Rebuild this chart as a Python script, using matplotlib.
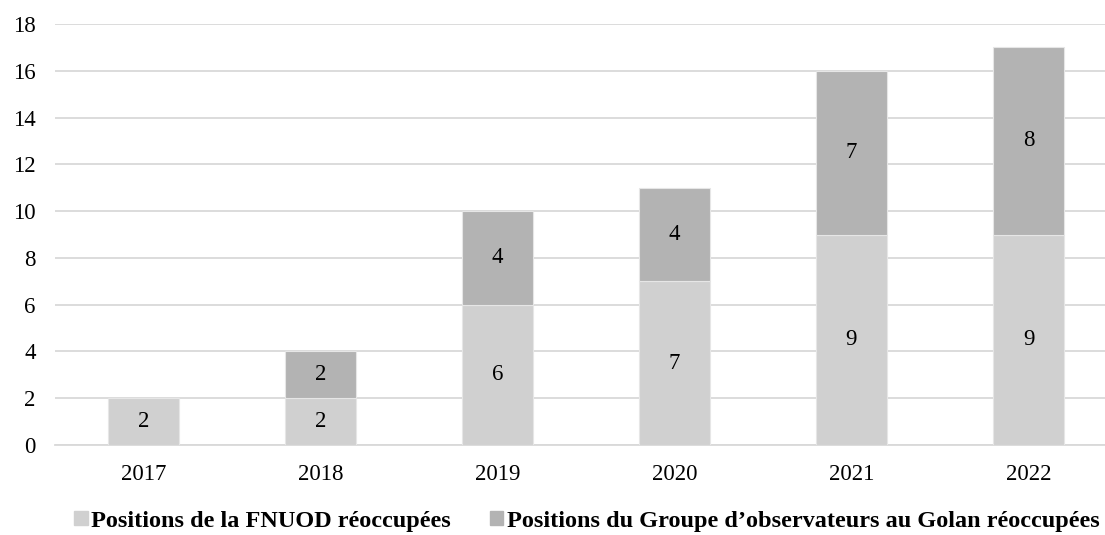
import matplotlib
matplotlib.use("Agg")
import matplotlib.pyplot as plt
import numpy as np

years = ["2017", "2018", "2019", "2020", "2021", "2022"]
fnuod = [2, 2, 6, 7, 9, 9]
golan = [0, 2, 4, 4, 7, 8]
series_names = ["Positions de la FNUOD réoccupées",
                "Positions du Groupe d\u2019observateurs au Golan réoccupées"]
colors = ["#d0d0d0", "#b3b3b3"]

plt.rcParams["font.family"] = ["Liberation Serif", "DejaVu Serif"]

W, H = 1105, 535
fig = plt.figure(figsize=(W / 100, H / 100), dpi=100)
left, right, bottom, top = 55, 1117, 445, 24
ax = fig.add_axes([left / W, 1 - bottom / H, (right - left) / W, (bottom - top) / H])

x = np.arange(len(years))
width = 0.4
ax.bar(x, fnuod, width, color=colors[0], edgecolor="#e6e6e6", linewidth=0.8,
       label=series_names[0], zorder=3)
golan_masked = [v if v > 0 else np.nan for v in golan]
ax.bar(x, golan_masked, width, bottom=fnuod, color=colors[1], edgecolor="#e6e6e6",
       linewidth=0.8, label=series_names[1], zorder=3)

for xi, v in zip(x, fnuod):
    if v > 0:
        ax.text(xi, v / 2, str(v), ha="center", va="center", fontsize=16.5, zorder=4)
for xi, base, v in zip(x, fnuod, golan):
    if v > 0:
        ax.text(xi, base + v / 2, str(v), ha="center", va="center", fontsize=16.5, zorder=4)

ax.set_xlim(-0.5, len(years) - 0.5)
ax.set_ylim(0, 18)
ax.set_yticks(range(0, 19, 2))
ax.set_xticks(x)
ax.set_xticklabels(years)
ax.tick_params(axis="both", length=0, labelsize=16.5)
ax.tick_params(axis="y", pad=14)
ax.tick_params(axis="x", pad=14)
ax.yaxis.grid(True, color="#d9d9d9", linewidth=1.3, zorder=0)
for s in ["top", "right", "left"]:
    ax.spines[s].set_visible(False)
ax.spines["bottom"].set_color("#d9d9d9")
ax.spines["bottom"].set_linewidth(1.3)

handles = [plt.Rectangle((0, 0), 1, 1, color=c) for c in colors]
fig.legend(handles, series_names, loc="center", bbox_to_anchor=(587 / W, 1 - 521 / H),
           ncol=2, frameon=False, handlelength=0.55, handleheight=0.55, handletextpad=0.15,
           columnspacing=1.6, prop={"weight": "bold", "size": 17.5})

fig.savefig("out.png", dpi=100)
